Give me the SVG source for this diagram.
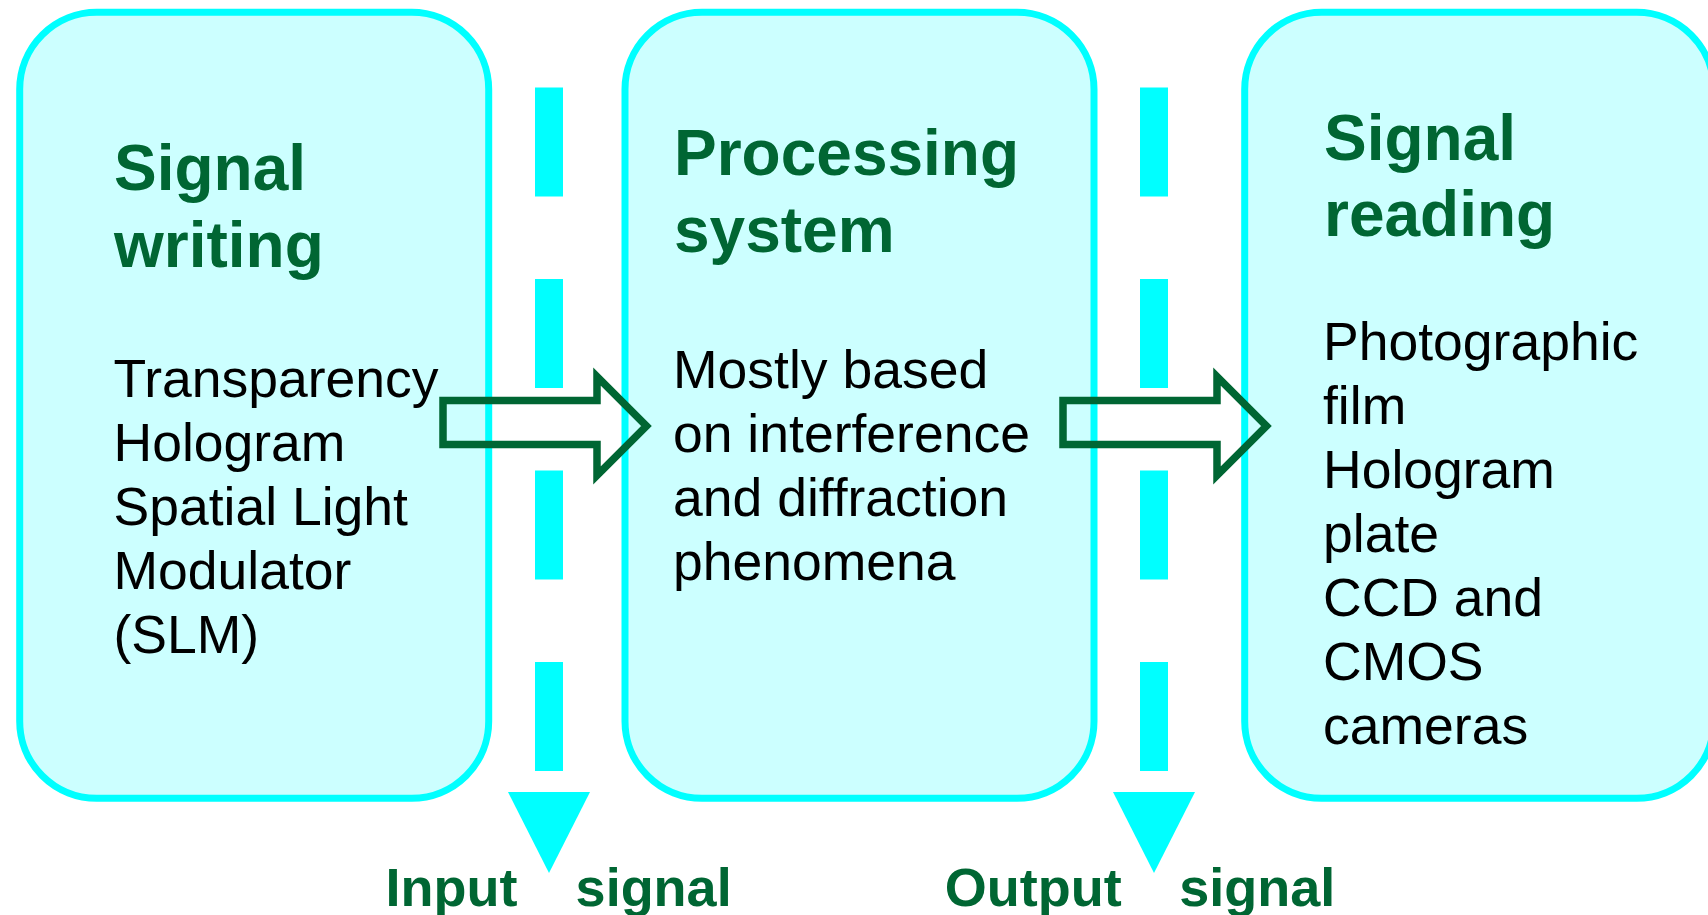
<svg xmlns="http://www.w3.org/2000/svg" width="1708" height="915" viewBox="0 0 1708 915">
<style>
.box{fill:#CCFFFF;stroke:#00FFFF;stroke-width:7}
.title{font-family:"Liberation Sans",Arial,sans-serif;font-weight:bold;font-size:64px;fill:#006633}
.body{font-family:"Liberation Sans",Arial,sans-serif;font-size:53.5px;fill:#000000}
.label{font-family:"Liberation Sans",Arial,sans-serif;font-weight:bold;font-size:54px;fill:#006633}
.dash{fill:#00FFFF}
.flow{fill:none;stroke:#006633;stroke-width:7.5;stroke-miterlimit:10}
</style>
<rect width="1708" height="915" fill="#FFFFFF"/>
<g id="signal-writing">
<rect class="box" x="19.7" y="12.3" width="469" height="786" rx="77" ry="77"/>
<text class="title"><tspan x="114" y="190">Signal</tspan><tspan x="114" y="266.8">writing</tspan></text>
<text class="body"><tspan x="113.5" y="397">Transparency</tspan><tspan x="113.5" y="461">Hologram</tspan><tspan x="113.5" y="525">Spatial Light</tspan><tspan x="113.5" y="589">Modulator</tspan><tspan x="113.5" y="653">(SLM)</tspan></text>
</g>
<g id="processing-system">
<rect class="box" x="625" y="12.3" width="469" height="786" rx="77" ry="77"/>
<text class="title"><tspan x="674" y="175">Processing</tspan><tspan x="674" y="251.8">system</tspan></text>
<text class="body"><tspan x="673" y="388">Mostly based</tspan><tspan x="673" y="452">on interference</tspan><tspan x="673" y="516">and diffraction</tspan><tspan x="673" y="580">phenomena</tspan></text>
</g>
<g id="signal-reading">
<rect class="box" x="1244.7" y="12.3" width="469" height="786" rx="77" ry="77"/>
<text class="title"><tspan x="1324" y="160">Signal</tspan><tspan x="1324" y="236">reading</tspan></text>
<text class="body"><tspan x="1323" y="360">Photographic</tspan><tspan x="1323" y="424">film</tspan><tspan x="1323" y="488">Hologram</tspan><tspan x="1323" y="552">plate</tspan><tspan x="1323" y="616">CCD and</tspan><tspan x="1323" y="680">CMOS</tspan><tspan x="1323" y="744">cameras</tspan></text>
</g>
<g id="input-signal">
<rect class="dash" x="535" y="87.5" width="28" height="109"/>
<rect class="dash" x="535" y="279" width="28" height="109"/>
<rect class="dash" x="535" y="470.5" width="28" height="109"/>
<rect class="dash" x="535" y="662" width="28" height="109"/>
<polygon class="dash" points="508,792 590,792 549,873"/>
<text class="label"><tspan x="385.5" y="906">Input</tspan><tspan x="575.6" y="906">signal</tspan></text>
</g>
<g id="output-signal">
<rect class="dash" x="1140" y="87.5" width="28" height="109"/>
<rect class="dash" x="1140" y="279" width="28" height="109"/>
<rect class="dash" x="1140" y="470.5" width="28" height="109"/>
<rect class="dash" x="1140" y="662" width="28" height="109"/>
<polygon class="dash" points="1113,792 1195,792 1154,873"/>
<text class="label"><tspan x="944.8" y="906">Output</tspan><tspan x="1179.3" y="906">signal</tspan></text>
</g>
<g id="connectors">
<polygon class="flow" points="443,400.5 597,400.5 597,376.5 646.5,426 597,475.5 597,444.5 443,444.5"/>
<polygon class="flow" points="1063,400.5 1217,400.5 1217,376.5 1266.5,426 1217,475.5 1217,444.5 1063,444.5"/>
</g>
</svg>
